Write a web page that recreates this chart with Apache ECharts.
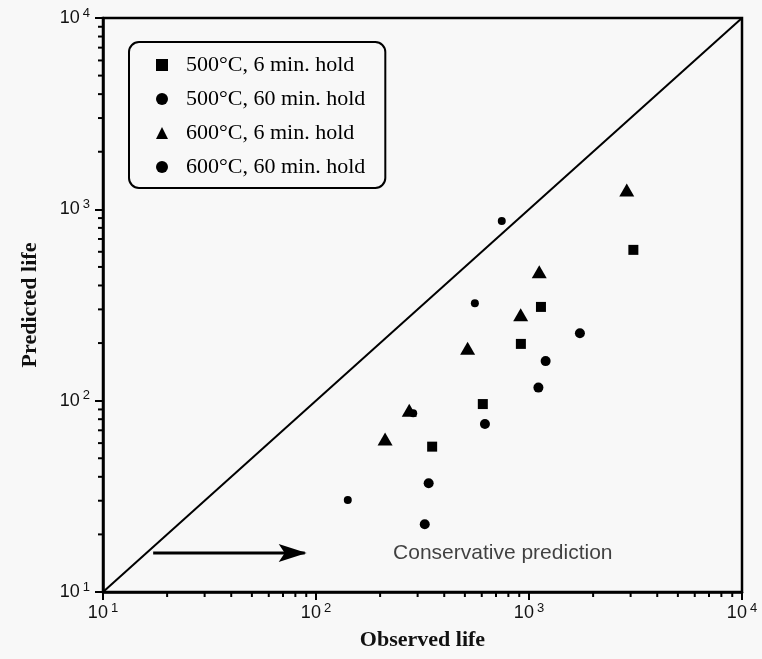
<!DOCTYPE html>
<html>
<head>
<meta charset="utf-8">
<script src="https://cdn.jsdelivr.net/npm/echarts@6/dist/echarts.min.js"></script>
<style>
  html, body { margin: 0; padding: 0; background: #f8f8f8; }
  #chart { width: 762px; height: 659px; }
</style>
</head>
<body>
<div id="chart"></div>
<script>
// observed life / predicted life pairs
const sq500_6 = [[3090, 614], [1138, 309], [916, 198], [607, 96], [351, 57.5]];
const ci500_60 = [[1734, 225], [1197, 161], [1107, 117], [621, 75.5], [338, 37], [324, 22.6]];
const tri600_6 = [[2877, 1262], [1117, 472], [914, 281], [515, 188], [274, 89], [211, 63]];
const dot600_60 = [[745, 869], [557, 323], [286, 86], [141, 30.3]];

const seriesNames = ['500°C, 6 min. hold', '500°C, 60 min. hold', '600°C, 6 min. hold', '600°C, 60 min. hold'];
const diagonal = [[10, 10], [10000, 10000]];
const arrowLine = [[17.2, 16], [88.5, 16]];
const noteText = 'Conservative prediction';
const notePos = [[230, 16]];

const minorVals = [];
[10, 100, 1000].forEach(d => { for (let k = 2; k <= 9; k++) minorVals.push(k * d); });

const chart = echarts.init(document.getElementById('chart'));

const tickLabel = {
  color: '#111',
  fontFamily: 'Liberation Sans',
  formatter: v => '{b|10}{s|' + Math.round(Math.log10(v)) + '}',
  rich: {
    b: { fontSize: 18, fontFamily: 'Liberation Sans', color: '#111' },
    s: { fontSize: 13, fontFamily: 'Liberation Sans', color: '#111', padding: [0, 0, 10, 3] }
  }
};

const axisTitle = {
  fontFamily: 'Liberation Serif',
  fontWeight: 'bold',
  fontSize: 22,
  color: '#111'
};

const minorTicks = (isX) => ({
  type: 'custom',
  silent: true,
  data: minorVals.map(v => isX ? [v, 10] : [10, v]),
  renderItem: (params, api) => {
    const p = api.coord([api.value(0), api.value(1)]);
    const shape = isX
      ? { x1: p[0], y1: p[1], x2: p[0], y2: p[1] + 5 }
      : { x1: p[0], y1: p[1], x2: p[0] - 5, y2: p[1] };
    return { type: 'line', shape: shape, style: { stroke: '#000', lineWidth: 2 } };
  },
  z: 1
});

const pointStyle = { color: '#000', opacity: 1 };

const option = {
  backgroundColor: '#f8f8f8',
  animation: false,
  grid: { left: 103, right: 20, top: 18, bottom: 67, outerBoundsMode: 'none',
          show: true, borderColor: '#000', borderWidth: 2.5 },
  legend: {
    data: seriesNames,
    orient: 'vertical',
    left: 129,
    top: 42,
    padding: [12, 20, 10, 27],
    itemGap: 12,
    itemWidth: 12,
    itemHeight: 12,
    align: 'left',
    borderColor: '#000',
    borderWidth: 2,
    borderRadius: 10,
    backgroundColor: '#f8f8f8',
    itemStyle: { opacity: 1 },
    textStyle: { fontFamily: 'Liberation Serif', fontSize: 22, color: '#000',
                 lineHeight: 22, padding: [0, 0, 0, 13] }
  },
  xAxis: {
    type: 'log', logBase: 10, min: 10, max: 10000,
    name: 'Observed life', nameLocation: 'middle', nameGap: 37, nameTextStyle: axisTitle,
    axisLine: { lineStyle: { color: '#000', width: 2.5 } },
    axisTick: { length: 8, lineStyle: { color: '#000', width: 2 } },
    axisLabel: Object.assign({ margin: 10 }, tickLabel),
    splitLine: { show: false }
  },
  yAxis: {
    type: 'log', logBase: 10, min: 10, max: 10000,
    name: 'Predicted life', nameLocation: 'middle', nameGap: 62, nameTextStyle: axisTitle,
    axisLine: { lineStyle: { color: '#000', width: 2.5 } },
    axisTick: { length: 8, lineStyle: { color: '#000', width: 2 } },
    axisLabel: Object.assign({ margin: 13 }, tickLabel),
    splitLine: { show: false }
  },
  series: [
    {
      type: 'line', data: diagonal, symbol: 'none', silent: true,
      lineStyle: { color: '#000', width: 2 }
    },
    {
      type: 'line', silent: true,
      data: [
        { value: arrowLine[0], symbol: 'none' },
        { value: arrowLine[1], symbol: 'path://M0 0L28 9L0 18L6 9Z', symbolSize: [28, 18], symbolOffset: [-12, 0] }
      ],
      lineStyle: { color: '#000', width: 3 },
      itemStyle: { color: '#000', opacity: 1 }
    },
    {
      type: 'scatter', data: notePos, symbolSize: 0, silent: true,
      label: { show: true, position: 'right', distance: 0, formatter: noteText,
               fontFamily: 'Liberation Sans', fontSize: 21, color: '#111' }
    },
    minorTicks(true),
    minorTicks(false),
    { name: seriesNames[0], type: 'scatter', data: sq500_6, symbol: 'rect', symbolSize: 10, itemStyle: pointStyle },
    { name: seriesNames[1], type: 'scatter', data: ci500_60, symbol: 'circle', symbolSize: 10, itemStyle: pointStyle },
    { name: seriesNames[2], type: 'scatter', data: tri600_6, symbol: 'triangle', symbolSize: [15, 13], itemStyle: pointStyle },
    { name: seriesNames[3], type: 'scatter', data: dot600_60, symbol: 'circle', symbolSize: 8, itemStyle: pointStyle }
  ]
};

chart.setOption(option);
</script>
</body>
</html>
